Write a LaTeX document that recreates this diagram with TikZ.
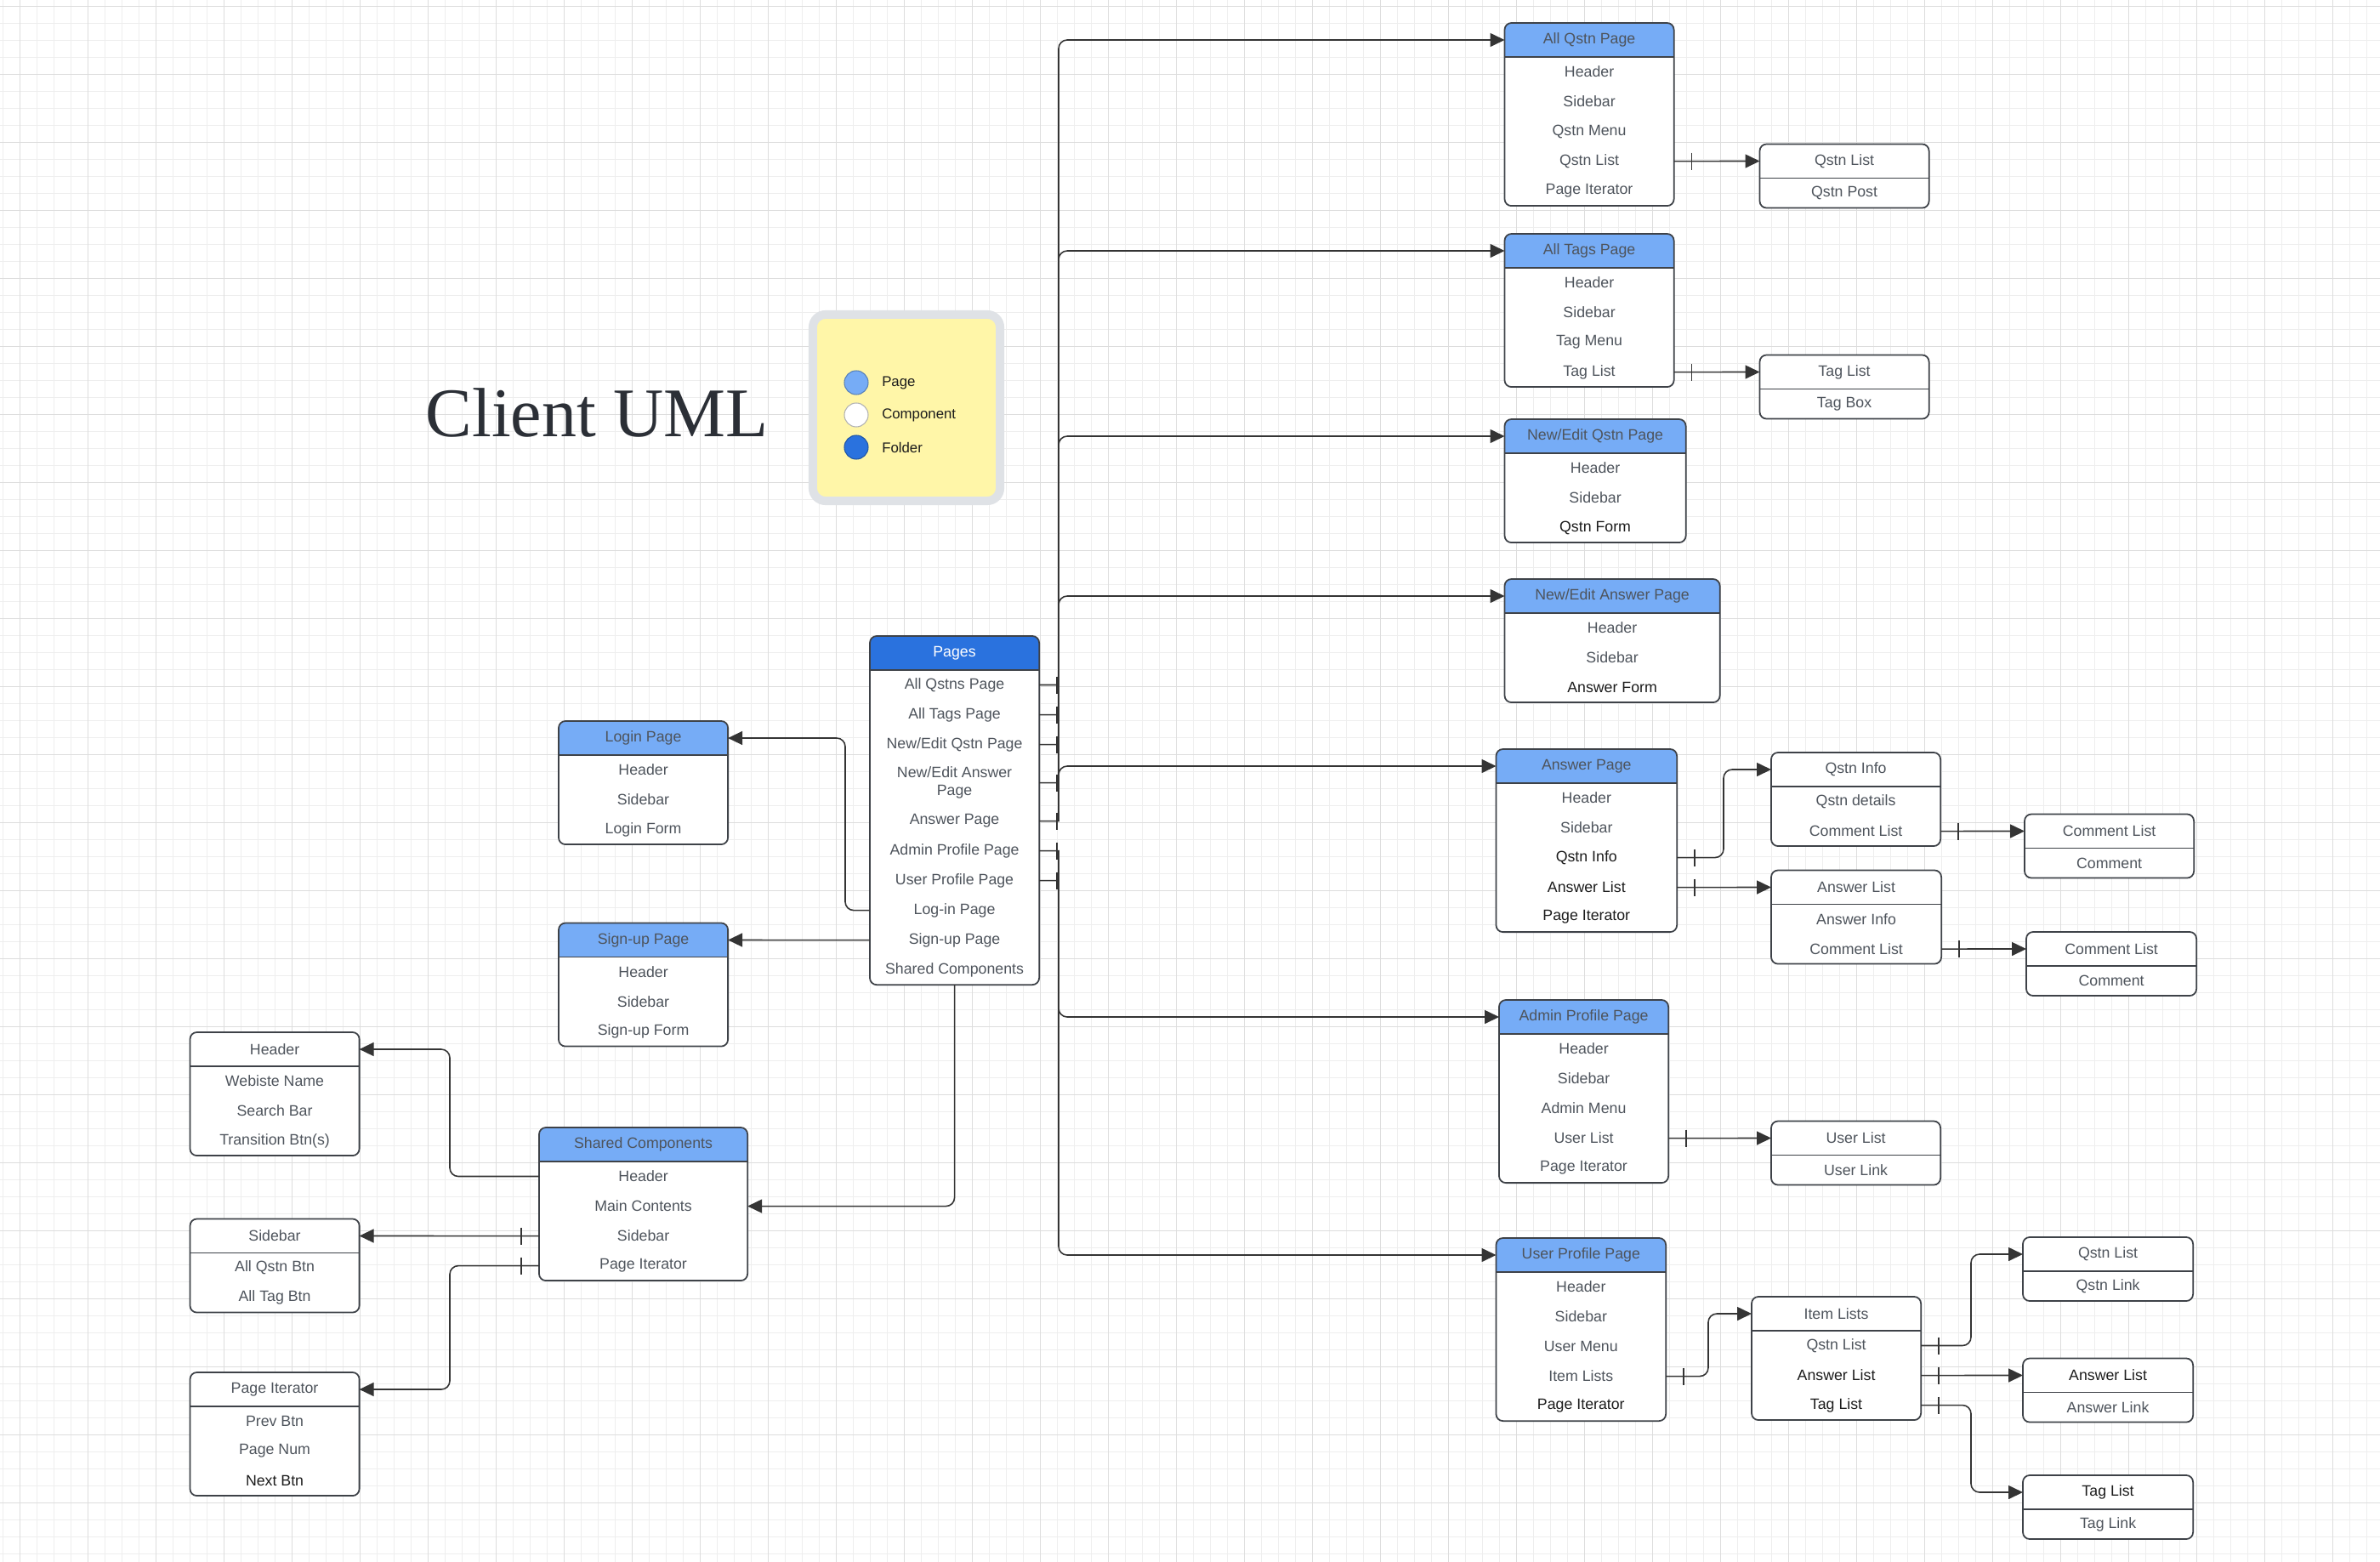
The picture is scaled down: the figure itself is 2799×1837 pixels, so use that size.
\documentclass[tikz,border=0pt]{standalone}
\usepackage{fontspec}
\setmainfont{Liberation Sans}
\newfontfamily\titlefont{Liberation Serif}
\usetikzlibrary{positioning,arrows.meta,backgrounds}

\definecolor{pageblue}{RGB}{118,172,246}
\definecolor{folderblue}{RGB}{42,114,222}
\definecolor{boxgray}{RGB}{62,66,72}
\definecolor{linkgray}{RGB}{52,52,52}
\definecolor{inkgray}{RGB}{78,84,92}
\definecolor{inkdark}{RGB}{28,28,28}
\definecolor{titleink}{RGB}{43,47,54}
\definecolor{gridminorcol}{RGB}{238,238,238}
\definecolor{gridmajorcol}{RGB}{221,221,221}
\definecolor{notegray}{RGB}{223,226,230}
\definecolor{noteyellow}{RGB}{255,246,168}

\newcommand{\darktext}[1]{\textcolor{inkdark}{#1}}

% class box: name, left x, top y, width (px), header fill, title, rows
\newcommand{\classbox}[7]{%
  \node[boxhead, minimum width={#4*0.1mm}, anchor=north west, alias=#1-0] (#1) at (#2,#3) {#6};
  \foreach \r [count=\i, remember=\i as \j (initially 0)] in {#7} {
    \node[boxrow, minimum width={#4*0.1mm}, below=0pt of #1-\j] (#1-\i) {\r};
    \xdef\lastrow{\i}
  }
  \begin{scope}[on background layer]
    \fill[white, rounded corners=0.8mm] (#1.north west) rectangle (#1-\lastrow.south east);
    \path[#5, rounded corners=0.8mm] (#1.north west) rectangle (#1.south east);
    \path[#5] ([yshift=1mm]#1.south west) rectangle (#1.south east);
  \end{scope}
  \draw[boxline, rounded corners=0.8mm] (#1.north west) rectangle (#1-\lastrow.south east);
  \draw[boxline] (#1.south west) -- (#1.south east);
}

\begin{document}
\begin{tikzpicture}[x=0.01cm, y=-0.01cm,
    page/.style={fill=pageblue},
    comp/.style={fill=white},
    folder/.style={fill=folderblue},
    boxhead/.style={font={\fontsize{5.05}{5.97}\selectfont}, text=inkgray, align=center,
      inner xsep=0.2mm, inner ysep=0.87mm, minimum height=4mm, outer sep=0pt},
    boxrow/.style={boxhead, minimum height=3.5mm},
    boxline/.style={draw=boxgray, line width=0.5pt},
    link/.style={draw=linkgray, line width=0.45pt, rounded corners=1mm,
      -{Triangle[length=1.7mm,width=1.6mm]}},
    onebar/.style={draw=linkgray, line width=0.45pt},
    note/.style={draw=notegray, line width=1mm, fill=noteyellow, rounded corners=1.5mm},
    keydot/.style={circle, minimum size=2.8mm, inner sep=0pt, line width=0.3pt},
    keytext/.style={font={\fontsize{4.78}{5.7}\selectfont}, text=inkdark, inner sep=0pt},
    minorline/.style={draw=gridminorcol, line width=0.1mm},
    majorline/.style={draw=gridmajorcol, line width=0.1mm}]

    \useasboundingbox (0,0) rectangle (2799,1837);

    % Draw grid paper
    \begin{scope}[on background layer]
        \fill[white] (0,0) rectangle (2799,1837);
        \foreach \g in {3.3,23.3,...,2799} \draw[minorline] (\g,0) -- (\g,1837);
        \foreach \g in {7.3,27.3,...,1837} \draw[minorline] (0,\g) -- (2799,\g);
        \foreach \g in {23.3,103.3,...,2799} \draw[majorline] (\g,0) -- (\g,1837);
        \foreach \g in {7.3,87.3,...,1837} \draw[majorline] (0,\g) -- (2799,\g);
    \end{scope}

    % Title and legend
    \node[font={\titlefont\fontsize{23.3}{28}\selectfont}, text=titleink, inner sep=0pt] (title) at (702,485) {Client UML};
    \node[note, minimum width=22mm, minimum height=21.9mm] (key) at (1066,479.5) {};
    \node[keydot, fill=pageblue, draw=pageblue!75!black] (key-page) at (1007,450) {};
    \node[keydot, fill=white, draw=black!30] (key-comp) at (1007,488) {};
    \node[keydot, fill=folderblue, draw=folderblue!75!black] (key-folder) at (1007,526) {};
    \node[keytext, right=1.5mm of key-page] (key-page-text) {Page};
    \node[keytext, right=1.5mm of key-comp] (key-comp-text) {Component};
    \node[keytext, right=1.5mm of key-folder] (key-folder-text) {Folder};

    % Pages folder
    \classbox{pg}{1023}{748}{199}{folder}{\textcolor{white}{Pages}}{All Qstns Page,All Tags Page,New/Edit Qstn Page,{New/Edit Answer\\Page},Answer Page,Admin Profile Page,User Profile Page,Log-in Page,Sign-up Page,Shared Components}

    % Pages on the right
    \classbox{aq}{1769.5}{27}{199}{page}{All Qstn Page}{Header,Sidebar,Qstn Menu,Qstn List,Page Iterator}
    \classbox{aqlist}{2069.5}{169.5}{199}{comp}{Qstn List}{Qstn Post}
    \classbox{tg}{1769.5}{275}{199}{page}{All Tags Page}{Header,Sidebar,Tag Menu,Tag List}
    \classbox{tglist}{2069.5}{417.5}{199}{comp}{Tag List}{Tag Box}
    \classbox{nq}{1769.5}{493}{213}{page}{New/Edit Qstn Page}{Header,Sidebar,\darktext{Qstn Form}}
    \classbox{na}{1769.5}{681}{253}{page}{New/Edit Answer Page}{Header,Sidebar,\darktext{Answer Form}}
    \classbox{ap}{1759.5}{881}{212.5}{page}{Answer Page}{Header,Sidebar,\darktext{Qstn Info},\darktext{Answer List},\darktext{Page Iterator}}
    \classbox{qinfo}{2083}{885}{199}{comp}{Qstn Info}{Qstn details,Comment List}
    \classbox{alist}{2083}{1023.5}{200}{comp}{Answer List}{Answer Info,Comment List}
    \classbox{clq}{2381}{957.5}{199}{comp}{Comment List}{Comment}
    \classbox{cla}{2383}{1096}{200}{comp}{Comment List}{Comment}
    \classbox{adm}{1763}{1176}{199}{page}{Admin Profile Page}{Header,Sidebar,Admin Menu,User List,Page Iterator}
    \classbox{ulist}{2083}{1318.5}{199}{comp}{User List}{User Link}
    \classbox{upr}{1759.5}{1456}{199.5}{page}{User Profile Page}{Header,Sidebar,User Menu,Item Lists,\darktext{Page Iterator}}
    \classbox{items}{2060}{1525}{199}{comp}{Item Lists}{Qstn List,\darktext{Answer List},\darktext{Tag List}}
    \classbox{itq}{2379}{1455}{200}{comp}{Qstn List}{Qstn Link}
    \classbox{ita}{2379}{1597.5}{200}{comp}{\darktext{Answer List}}{Answer Link}
    \classbox{itt}{2379}{1735}{200}{comp}{\darktext{Tag List}}{Tag Link}

    % Pages and shared components on the left
    \classbox{login}{657}{848}{199}{page}{Login Page}{Header,Sidebar,Login Form}
    \classbox{signup}{657}{1085.5}{199}{page}{Sign-up Page}{Header,Sidebar,Sign-up Form}
    \classbox{shared}{634}{1326}{245}{page}{Shared Components}{Header,Main Contents,Sidebar,Page Iterator}
    \classbox{hdr}{223.5}{1214}{199}{comp}{Header}{Webiste Name,Search Bar,Transition Btn(s)}
    \classbox{side}{223.5}{1433.5}{199}{comp}{Sidebar}{All Qstn Btn,All Tag Btn}
    \classbox{iter}{223.5}{1614}{199}{comp}{Page Iterator}{Prev Btn,Page Num,\darktext{Next Btn}}

    % Pages folder to its pages
    \coordinate (trunk) at (1245,0);
    \foreach \src/\dst in {1/aq,2/tg,3/nq,4/na,5/ap,6/adm,7/upr} {
        \draw[link] (pg-\src.east) [sharp corners] -- (trunk |- pg-\src.east)
            [rounded corners=1mm] -- (trunk |- \dst.west) -- (\dst.west);
        \draw[onebar] ([xshift=2.1mm]pg-\src.east) ++(0,-10) -- ++(0,20);
    }
    \coordinate (loginbend) at (994,0);
    \draw[link] (pg-8.west) -| (loginbend |- login.east) -- (login.east);
    \draw[link] (pg-9.west) -- (signup.east);
    \draw[link] (pg-10.south) |- (shared-2.east);

    % Shared components
    \coordinate (sharedbend) at (529,0);
    \draw[link] (shared-1.west) -| (sharedbend |- hdr.east) -- (hdr.east);
    \draw[link] (shared-3.west) -- (side.east);
    \draw[link] (shared-4.west) -| (sharedbend |- iter.east) -- (iter.east);
    \foreach \src in {shared-3,shared-4}
        \draw[onebar] ([xshift=-2.1mm]\src.west) ++(0,-10) -- ++(0,20);

    % Components of the pages
    \draw[link] (aq-4.east) -- (aqlist.west);
    \draw[link] (tg-4.east) -- (tglist.west);
    \coordinate (apbend) at (2027,0);
    \draw[link] (ap-3.east) -| (apbend |- qinfo.west) -- (qinfo.west);
    \draw[link] (ap-4.east) -- (alist.west);
    \draw[link] (qinfo-2.east) -- (clq.west);
    \draw[link] (alist-2.east) -- (cla.west);
    \draw[link] (adm-4.east) -- (ulist.west);
    \coordinate (upbend) at (2009,0);
    \draw[link] (upr-4.east) -| (upbend |- items.west) -- (items.west);
    \coordinate (itembend) at (2318,0);
    \draw[link] (items-1.east) -| (itembend |- itq.west) -- (itq.west);
    \draw[link] (items-2.east) -- (ita.west);
    \draw[link] (items-3.east) -| (itembend |- itt.west) -- (itt.west);

    % one-bars near the source ends
    \foreach \src in {aq-4,tg-4,ap-3,ap-4,qinfo-2,alist-2,adm-4,upr-4,items-1,items-2,items-3}
        \draw[onebar] ([xshift=2.1mm]\src.east) ++(0,-10) -- ++(0,20);
\end{tikzpicture}
\end{document}
